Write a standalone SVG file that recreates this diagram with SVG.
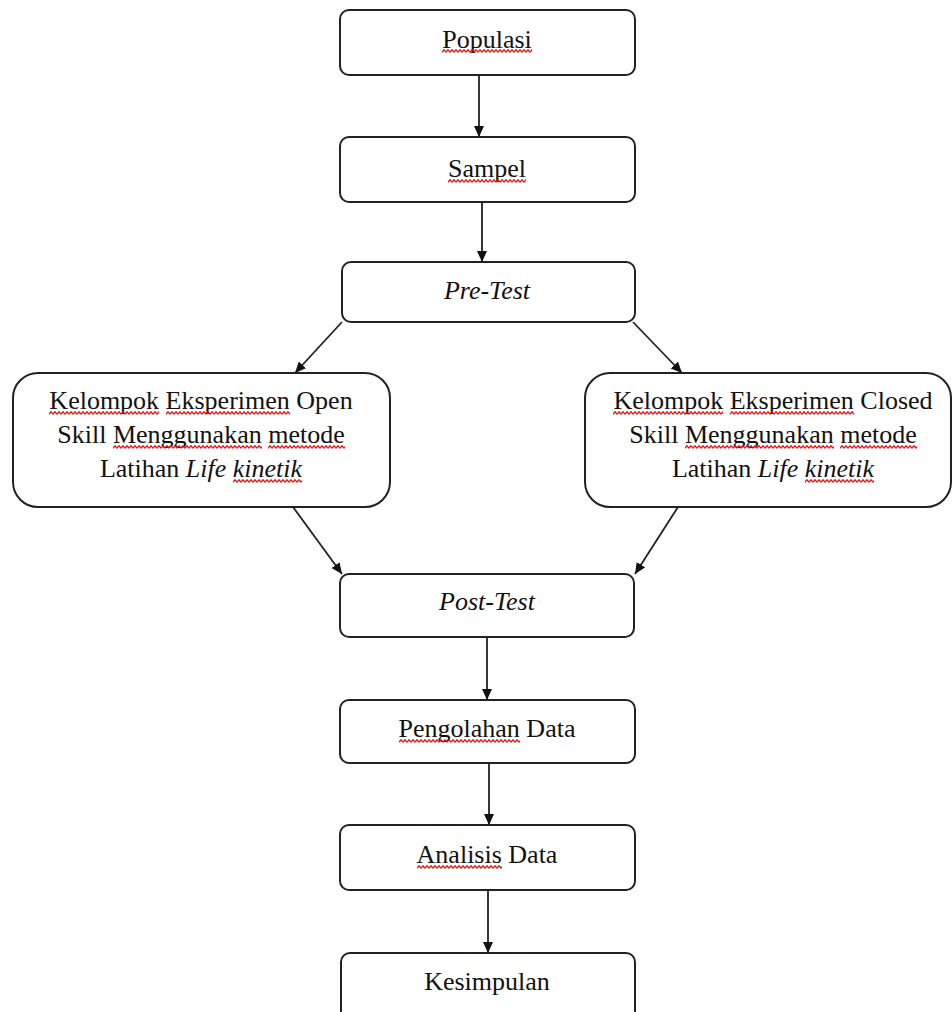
<svg xmlns="http://www.w3.org/2000/svg" width="952" height="1012" viewBox="0 0 952 1012">
<style>
.box{fill:#fff;stroke:#222;stroke-width:2}
.t{font-family:"Liberation Serif","Times New Roman",serif;font-size:26px;fill:#111;text-anchor:middle}
.i{font-style:italic}
.c{stroke:#222;stroke-width:1.8;fill:none;marker-end:url(#ah)}
.sq{fill:url(#wave)}
</style>
<defs>
<marker id="ah" markerWidth="12" markerHeight="12" refX="11" refY="5.5" orient="auto" markerUnits="userSpaceOnUse">
<path d="M0,0.5 L11,5.5 L0,10.5 Z" fill="#111"/>
</marker>
<pattern id="wave" patternUnits="userSpaceOnUse" width="4" height="4">
<path d="M0 3 C1 3 1 1 2 1 C3 1 3 3 4 3" stroke="#e01010" stroke-width="1.4" fill="none"/>
</pattern>
</defs>
<rect width="952" height="1012" fill="#fff"/>
<g id="connectors">
<line class="c" x1="479" y1="75" x2="479" y2="137"/>
<line class="c" x1="482" y1="202" x2="482" y2="262"/>
<line class="c" x1="342" y1="322" x2="295" y2="373"/>
<line class="c" x1="633" y1="322" x2="682" y2="373"/>
<line class="c" x1="293" y1="507" x2="342" y2="574"/>
<line class="c" x1="678" y1="507" x2="635" y2="574"/>
<line class="c" x1="487" y1="637" x2="487" y2="700"/>
<line class="c" x1="489" y1="763" x2="489" y2="825"/>
<line class="c" x1="488" y1="890" x2="488" y2="953"/>
</g>
<g id="populasi">
<rect class="box" x="340" y="10" width="295" height="65" rx="9"/>
<text class="t" x="487" y="48">Populasi</text>
<rect class="sq" transform="translate(442,49)" width="90" height="4"/>
</g>
<g id="sampel">
<rect class="box" x="340" y="137" width="295" height="65" rx="9"/>
<text class="t" x="487" y="177">Sampel</text>
<rect class="sq" transform="translate(448,179)" width="78" height="4"/>
</g>
<g id="pretest">
<rect class="box" x="342" y="262" width="293" height="60" rx="9"/>
<text class="t i" x="487" y="299">Pre-Test</text>
</g>
<g id="open-skill">
<rect class="box" x="13" y="373" width="377" height="134" rx="25"/>
<text class="t" x="201" y="409">Kelompok Eksperimen Open</text>
<text class="t" x="201" y="443">Skill Menggunakan metode</text>
<text class="t" x="201" y="477">Latihan <tspan class="i">Life kinetik</tspan></text>
<rect class="sq" transform="translate(49,411)" width="110" height="4"/>
<rect class="sq" transform="translate(166,411)" width="124" height="4"/>
<rect class="sq" transform="translate(113,445)" width="149" height="4"/>
<rect class="sq" transform="translate(268,445)" width="77" height="4"/>
<rect class="sq" transform="translate(233,479)" width="69" height="4"/>
</g>
<g id="closed-skill">
<rect class="box" x="585" y="373" width="366" height="134" rx="25"/>
<text class="t" x="773" y="409">Kelompok Eksperimen Closed</text>
<text class="t" x="773" y="443">Skill Menggunakan metode</text>
<text class="t" x="773" y="477">Latihan <tspan class="i">Life kinetik</tspan></text>
<rect class="sq" transform="translate(613,411)" width="110" height="4"/>
<rect class="sq" transform="translate(730,411)" width="124" height="4"/>
<rect class="sq" transform="translate(685,445)" width="149" height="4"/>
<rect class="sq" transform="translate(840,445)" width="77" height="4"/>
<rect class="sq" transform="translate(805,479)" width="69" height="4"/>
</g>
<g id="posttest">
<rect class="box" x="340" y="574" width="294" height="63" rx="9"/>
<text class="t i" x="487" y="610">Post-Test</text>
</g>
<g id="pengolahan">
<rect class="box" x="340" y="700" width="295" height="63" rx="9"/>
<text class="t" x="487" y="737">Pengolahan Data</text>
<rect class="sq" transform="translate(399,739)" width="121" height="4"/>
</g>
<g id="analisis">
<rect class="box" x="340" y="825" width="295" height="65" rx="9"/>
<text class="t" x="487" y="863">Analisis Data</text>
<rect class="sq" transform="translate(417,865)" width="85" height="4"/>
</g>
<g id="kesimpulan">
<rect class="box" x="341" y="953" width="294" height="75" rx="9"/>
<text class="t" x="487" y="990">Kesimpulan</text>
</g>
</svg>
